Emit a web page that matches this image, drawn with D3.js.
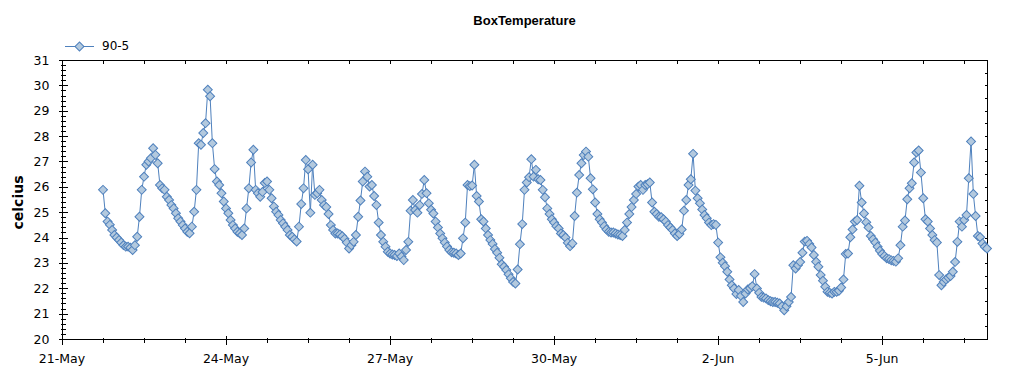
<!DOCTYPE html>
<html>
<head>
<meta charset="utf-8">
<script src="https://cdnjs.cloudflare.com/ajax/libs/d3/7.8.5/d3.min.js"></script>
<style>
  body { margin: 0; background: #fff; }
  text { font-family: "DejaVu Sans", Arial, sans-serif; }
</style>
</head>
<body>
<div id="chart"></div>
<script>
// chart texts
const chartTitle = "BoxTemperature";
const seriesName = "90-5";
const yTitle = "celcius";

// hourly readings, first one at 21-May 18:00
const firstReading = new Date(2009, 4, 21, 18);
const temps = [
  25.88, 24.96, 24.63, 24.50, 24.30, 24.10, 24.00, 23.90, 23.80, 23.70,
  23.64, 23.64, 23.60, 23.51, 23.70, 24.03, 24.82, 25.88, 26.40, 26.87,
  27.00, 27.13, 27.52, 27.26, 26.93, 26.07, 25.94, 25.88, 25.61, 25.48,
  25.28, 25.15, 24.96, 24.76, 24.63, 24.49, 24.36, 24.23, 24.17, 24.43,
  25.02, 25.88, 27.72, 27.66, 28.12, 28.51, 29.83, 29.57, 27.72, 26.70,
  26.21, 26.07, 25.75, 25.42, 25.15, 24.96, 24.69, 24.49, 24.36, 24.23,
  24.17, 24.10, 24.36, 25.15, 25.94, 26.96, 27.46, 25.88, 25.75, 25.61,
  25.80, 26.15, 26.21, 25.88, 25.55, 25.22, 25.02, 24.89, 24.69, 24.56,
  24.43, 24.30, 24.10, 24.03, 23.93, 23.84, 24.43, 25.32, 25.94, 27.06,
  26.69, 24.98, 26.87, 25.68, 25.75, 25.88, 25.48, 25.28, 25.20, 24.93,
  24.49, 24.30, 24.16, 24.16, 24.12, 24.05, 23.95, 23.80, 23.57, 23.70,
  23.83, 24.10, 24.82, 25.46, 26.21, 26.60, 26.40, 26.01, 26.07, 25.64,
  25.28, 24.59, 24.10, 23.83, 23.64, 23.44, 23.37, 23.33, 23.31, 23.27,
  23.37, 23.25, 23.11, 23.51, 23.83, 25.06, 25.48, 25.09, 24.98, 25.28,
  25.72, 26.27, 25.75, 25.35, 25.10, 24.95, 24.63, 24.40, 24.16, 23.97,
  23.80, 23.65, 23.51, 23.42, 23.40, 23.37, 23.31, 23.37, 23.97, 24.59,
  26.07, 26.03, 26.05, 26.87, 25.64, 25.42, 24.72, 24.63, 24.36, 24.10,
  23.90, 23.75, 23.55, 23.40, 23.20, 22.95, 22.85, 22.72, 22.55, 22.40,
  22.25, 22.19, 22.74, 23.74, 24.53, 25.88, 26.17, 26.38, 27.09, 26.40,
  26.67, 26.30, 26.27, 25.88, 25.59, 25.15, 24.93, 24.72, 24.59, 24.45,
  24.36, 24.16, 24.10, 24.00, 23.79, 23.66, 23.77, 24.85, 25.77, 26.47,
  26.93, 27.25, 27.39, 27.19, 26.34, 25.90, 25.38, 24.93, 24.72, 24.59,
  24.45, 24.32, 24.23, 24.20, 24.20, 24.16, 24.12, 24.10, 24.06, 24.30,
  24.59, 24.93, 25.20, 25.48, 25.72, 26.01, 26.07, 25.88, 26.07, 26.10,
  26.17, 25.38, 25.02, 24.93, 24.82, 24.80, 24.72, 24.63, 24.49, 24.40,
  24.30, 24.16, 24.06, 24.14, 24.32, 25.06, 25.48, 26.07, 26.30, 27.30,
  25.85, 25.55, 25.35, 25.11, 24.89, 24.76, 24.59, 24.49, 24.53, 24.50,
  23.80, 23.22, 23.01, 22.87, 22.65, 22.35, 22.12, 21.99, 21.77, 21.93,
  21.70, 21.46, 21.79, 21.95, 22.00, 22.08, 22.56, 21.99, 21.82, 21.66,
  21.63, 21.60, 21.53, 21.49, 21.46, 21.46, 21.43, 21.40, 21.29, 21.13,
  21.29, 21.46, 21.66, 22.91, 22.78, 22.91, 23.04, 23.40, 23.84, 23.87,
  23.75, 23.61, 23.31, 23.05, 22.85, 22.52, 22.30, 22.06, 21.86, 21.82,
  21.79, 21.86, 21.86, 21.90, 22.03, 22.35, 23.35, 23.37, 24.01, 24.32,
  24.63, 24.69, 26.04, 25.38, 24.95, 24.60, 24.40, 24.06, 23.93, 23.80,
  23.64, 23.48, 23.35, 23.27, 23.18, 23.15, 23.10, 23.08, 23.05, 23.18,
  23.70, 24.43, 24.67, 25.51, 25.94, 26.14, 26.96, 27.35, 27.43, 26.56,
  25.55, 24.72, 24.63, 24.36, 24.10, 23.90, 23.80, 22.52, 22.12, 22.25,
  22.35, 22.42, 22.48, 22.65, 23.04, 23.83, 24.63, 24.43, 24.69, 24.89,
  26.34, 27.79, 25.72, 24.85, 24.06, 24.01, 23.77, 23.64, 23.57
];

// axis ticks
const xTickLabels = ["21-May", "24-May", "27-May", "30-May", "2-Jun", "5-Jun"];
const yTickValues = [20, 21, 22, 23, 24, 25, 26, 27, 28, 29, 30, 31];

const width = 1024, height = 375;
const margin = {top: 60, right: 37, bottom: 36, left: 62};

const data = temps.map((v, i) => ({t: d3.timeHour.offset(firstReading, i), v: v}));
const axisStart = new Date(2009, 4, 21);

const x = d3.scaleTime()
  .domain([axisStart, data[data.length - 1].t])
  .range([margin.left, width - margin.right]);
const y = d3.scaleLinear()
  .domain([20, 31])
  .range([height - margin.bottom, margin.top]);

const svg = d3.select("#chart").append("svg")
  .attr("width", width)
  .attr("height", height);

svg.append("rect").attr("width", width).attr("height", height).attr("fill", "#fff");

const x0 = Math.round(x.range()[0]) + 0.5, x1 = Math.round(x.range()[1]) + 0.5;
const y0 = Math.round(y.range()[0]) + 0.5, y1 = Math.round(y.range()[1]) + 0.5;
const px = v => Math.round(x(v)) + 0.5;
const py = v => Math.round(y(v)) + 0.5;

// tick positions
const majorDays = xTickLabels.map((s, i) => d3.timeDay.offset(axisStart, i * 3));
const minorX = d3.range(0, 23).map(k => d3.timeHour.offset(axisStart, k * 18))
  .filter(d => d <= x.domain()[1]);
const minorY = d3.range(20, 31.001, 0.2);
const halfY = d3.range(20, 31.001, 0.5);

const axes = svg.append("g").attr("stroke", "#000").attr("stroke-width", 1).attr("shape-rendering", "crispEdges");

// frame
axes.append("path").attr("fill", "none")
  .attr("d", `M${x0},${y1}H${x1}V${y0}H${x0}Z`);

// bottom axis ticks, crossing the line
axes.selectAll(".xminor").data(minorX).join("line")
  .attr("x1", d => px(d)).attr("x2", d => px(d))
  .attr("y1", y0 - 2).attr("y2", y0 + 3);
axes.selectAll(".xmajor").data(majorDays).join("line")
  .attr("x1", d => px(d)).attr("x2", d => px(d))
  .attr("y1", y0 - 4).attr("y2", y0 + 5);
// top ticks, pointing down
axes.selectAll(".xtop").data(minorX).join("line")
  .attr("x1", d => px(d)).attr("x2", d => px(d))
  .attr("y1", y1).attr("y2", y1 + 3);

// left axis ticks
axes.selectAll(".yminor").data(minorY).join("line")
  .attr("x1", x0 - 2).attr("x2", x0 + 3)
  .attr("y1", d => py(d)).attr("y2", d => py(d));
axes.selectAll(".ymajor").data(yTickValues).join("line")
  .attr("x1", x0 - 4).attr("x2", x0 + 5)
  .attr("y1", d => py(d)).attr("y2", d => py(d));
// right ticks, pointing in
axes.selectAll(".yright").data(halfY).join("line")
  .attr("x1", x1 - 3).attr("x2", x1)
  .attr("y1", d => py(d)).attr("y2", d => py(d));

// tick labels
svg.append("g").selectAll("text").data(yTickValues).join("text")
  .attr("x", x0 - 13).attr("y", d => y(d))
  .attr("dy", "0.36em")
  .attr("text-anchor", "end")
  .style("font-size", "12.5px")
  .text(d => d);

svg.append("g").selectAll("text").data(majorDays).join("text")
  .attr("x", d => x(d)).attr("y", y0 + 23)
  .attr("text-anchor", "middle")
  .style("font-size", "12.5px")
  .text((d, i) => xTickLabels[i]);

// titles
svg.append("text")
  .attr("x", (x.range()[0] + x.range()[1]) / 2).attr("y", 25)
  .attr("text-anchor", "middle")
  .style("font-family", "'Liberation Sans', Arial, sans-serif")
  .style("font-size", "13px").style("font-weight", "bold")
  .text(chartTitle);

svg.append("text")
  .attr("transform", `translate(23,${(y.range()[0] + y.range()[1]) / 2 + 3}) rotate(-90)`)
  .attr("text-anchor", "middle")
  .style("font-size", "14px").style("font-weight", "bold")
  .text(yTitle);

// series
const lineColor = "#4f81bd", fillColor = "#b3c9de";
const diamond = d3.symbol(d3.symbolSquare, 40);

svg.append("path")
  .datum(data)
  .attr("fill", "none")
  .attr("stroke", lineColor)
  .attr("stroke-width", 1)
  .attr("d", d3.line().x(d => x(d.t)).y(d => y(d.v)));

svg.append("g").selectAll("path").data(data).join("path")
  .attr("transform", d => `translate(${x(d.t)},${y(d.v)}) rotate(45)`)
  .attr("d", diamond)
  .attr("fill", fillColor)
  .attr("stroke", lineColor)
  .attr("stroke-width", 1);

// legend
const legend = svg.append("g").attr("transform", "translate(65,46)");
legend.append("line").attr("x1", 0).attr("x2", 29).attr("y1", 0.5).attr("y2", 0.5)
  .attr("stroke", lineColor);
legend.append("path").attr("transform", "translate(14.5,0.5) rotate(45)")
  .attr("d", diamond).attr("fill", fillColor).attr("stroke", lineColor);
legend.append("text").attr("x", 37).attr("y", 0).attr("dy", "0.36em")
  .style("font-size", "12px")
  .text(seriesName);
</script>
</body>
</html>
